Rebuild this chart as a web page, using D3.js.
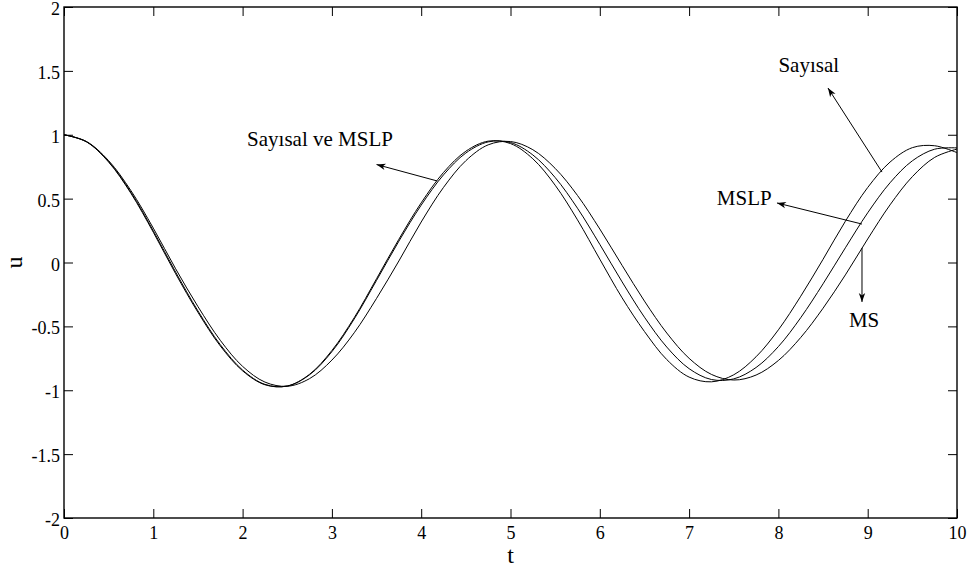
<!DOCTYPE html>
<html>
<head>
<meta charset="utf-8">
<script src="https://cdn.jsdelivr.net/npm/d3@7"></script>
<style>
  html, body { margin: 0; padding: 0; background: #fff; }
</style>
</head>
<body>
<svg id="chart" width="973" height="577"></svg>
<script>
'use strict';

// time samples (t) shared by the three solutions
const tValues = [
  0, 0.25, 0.5, 0.75, 1, 1.25, 1.5, 1.75, 2, 2.25, 2.5, 2.75, 3, 3.25, 3.5, 3.75,
  4, 4.25, 4.5, 4.75, 5, 5.25, 5.5, 5.75, 6, 6.25, 6.5, 6.75, 7, 7.25, 7.5, 7.75,
  8, 8.25, 8.5, 8.75, 9, 9.25, 9.5, 9.75, 10
];

// u(t)
const sayisal = [
  1, 0.945, 0.786, 0.541, 0.237, -0.088, -0.390, -0.653, -0.848, -0.957, -0.967, -0.875, -0.689, -0.432, -0.127, 0.182,
  0.467, 0.705, 0.871, 0.950, 0.931, 0.812, 0.605, 0.334, 0.026, -0.277, -0.540, -0.760, -0.897, -0.934, -0.879, -0.738,
  -0.527, -0.264, 0.025, 0.323, 0.587, 0.786, 0.899, 0.914, 0.860
];
const mslp = [
  1, 0.946, 0.790, 0.549, 0.248, -0.075, -0.379, -0.643, -0.842, -0.954, -0.967, -0.879, -0.698, -0.442, -0.140, 0.167,
  0.449, 0.686, 0.857, 0.944, 0.939, 0.842, 0.665, 0.425, 0.142, -0.152, -0.428, -0.662, -0.831, -0.916, -0.911, -0.822,
  -0.658, -0.432, -0.167, 0.115, 0.389, 0.624, 0.796, 0.887, 0.897
];
const ms = [
  1, 0.948, 0.797, 0.562, 0.269, -0.049, -0.345, -0.609, -0.813, -0.936, -0.969, -0.909, -0.764, -0.550, -0.281, 0.012,
  0.317, 0.588, 0.797, 0.921, 0.947, 0.883, 0.737, 0.525, 0.262, -0.023, -0.302, -0.552, -0.750, -0.876, -0.920, -0.881,
  -0.767, -0.587, -0.358, -0.097, 0.184, 0.451, 0.672, 0.823, 0.888
];

const xTicks = [0, 1, 2, 3, 4, 5, 6, 7, 8, 9, 10];
const yTicks = [-2, -1.5, -1, -0.5, 0, 0.5, 1, 1.5, 2];

// labels and arrows, in data units (t, u)
const labels = [
  { text: 'Sayısal ve MSLP', t: 2.05, u: 0.912 },
  { text: 'Sayısal', t: 8.0, u: 1.494 },
  { text: 'MSLP', t: 7.31, u: 0.45 },
  { text: 'MS', t: 8.79, u: -0.503 }
];
const arrows = [
  { from: [4.18, 0.638], to: [3.5, 0.767] },
  { from: [9.16, 0.708], to: [8.555, 1.366] },
  { from: [8.936, 0.301], to: [7.984, 0.466] },
  { from: [8.936, 0.114], to: [8.936, -0.309] }
];

const width = 973;
const height = 577;
const margin = { top: 7, right: 16, bottom: 59, left: 64 };
const serif = '"Times New Roman", "Liberation Serif", Times, "DejaVu Serif", serif';

const svg = d3.select('#chart')
  .attr('font-family', serif);

const x = d3.scaleLinear().domain([0, 10]).range([margin.left, width - margin.right]);
const y = d3.scaleLinear().domain([-2, 2]).range([height - margin.bottom, margin.top]);

function styleAxis(g) {
  g.attr('font-family', serif).attr('font-size', 18);
  g.select('.domain').remove();
  g.selectAll('.tick line').attr('stroke', '#000').attr('stroke-width', 1);
  g.selectAll('.tick text').attr('fill', '#000');
}

svg.append('g')
  .attr('transform', `translate(0,${y(-2)})`)
  .call(d3.axisBottom(x).tickValues(xTicks).tickSize(-9).tickPadding(8).tickFormat(d => String(d)))
  .call(styleAxis);

svg.append('g')
  .attr('transform', `translate(0,${y(2)})`)
  .call(d3.axisTop(x).tickValues(xTicks).tickSize(-9).tickFormat(''))
  .call(styleAxis);

const leftAxis = svg.append('g')
  .attr('transform', `translate(${x(0)},0)`)
  .call(d3.axisLeft(y).tickValues(yTicks).tickSize(-9).tickPadding(4).tickFormat(d => String(d)))
  .call(styleAxis);
leftAxis.selectAll('.tick text').attr('dy', '0.42em');

svg.append('g')
  .attr('transform', `translate(${x(10)},0)`)
  .call(d3.axisRight(y).tickValues(yTicks).tickSize(-9).tickFormat(''))
  .call(styleAxis);

// frame
svg.append('rect')
  .attr('x', x(0)).attr('y', y(2))
  .attr('width', x(10) - x(0)).attr('height', y(-2) - y(2))
  .attr('fill', 'none').attr('stroke', '#000').attr('stroke-width', 1.4);

const line = d3.line()
  .x((d, i) => x(tValues[i]))
  .y(d => y(d))
  .curve(d3.curveCatmullRom.alpha(0.5));

svg.append('g')
  .selectAll('path')
  .data([sayisal, mslp, ms])
  .join('path')
  .attr('d', line)
  .attr('fill', 'none')
  .attr('stroke', '#000')
  .attr('stroke-width', 1);

svg.append('defs').append('marker')
  .attr('id', 'head')
  .attr('viewBox', '-10 -5 12 10')
  .attr('refX', 0).attr('refY', 0)
  .attr('markerWidth', 12).attr('markerHeight', 10)
  .attr('markerUnits', 'userSpaceOnUse')
  .attr('orient', 'auto')
  .append('path')
  .attr('d', 'M0,0 L-9,-3.2 L-6.5,0 L-9,3.2 Z')
  .attr('fill', '#000');

svg.append('g')
  .selectAll('line')
  .data(arrows)
  .join('line')
  .attr('x1', d => x(d.from[0])).attr('y1', d => y(d.from[1]))
  .attr('x2', d => x(d.to[0])).attr('y2', d => y(d.to[1]))
  .attr('stroke', '#000').attr('stroke-width', 1)
  .attr('marker-end', 'url(#head)');

svg.append('g')
  .selectAll('text')
  .data(labels)
  .join('text')
  .attr('x', d => x(d.t)).attr('y', d => y(d.u))
  .attr('font-size', 21)
  .attr('fill', '#000')
  .text(d => d.text);

// axis titles
svg.append('text')
  .attr('x', (x(0) + x(10)) / 2).attr('y', 563)
  .attr('text-anchor', 'middle').attr('font-size', 24)
  .text('t');

svg.append('text')
  .attr('transform', `translate(22,${y(0)}) rotate(-90)`)
  .attr('text-anchor', 'middle').attr('font-size', 24)
  .text('u');
</script>
</body>
</html>
